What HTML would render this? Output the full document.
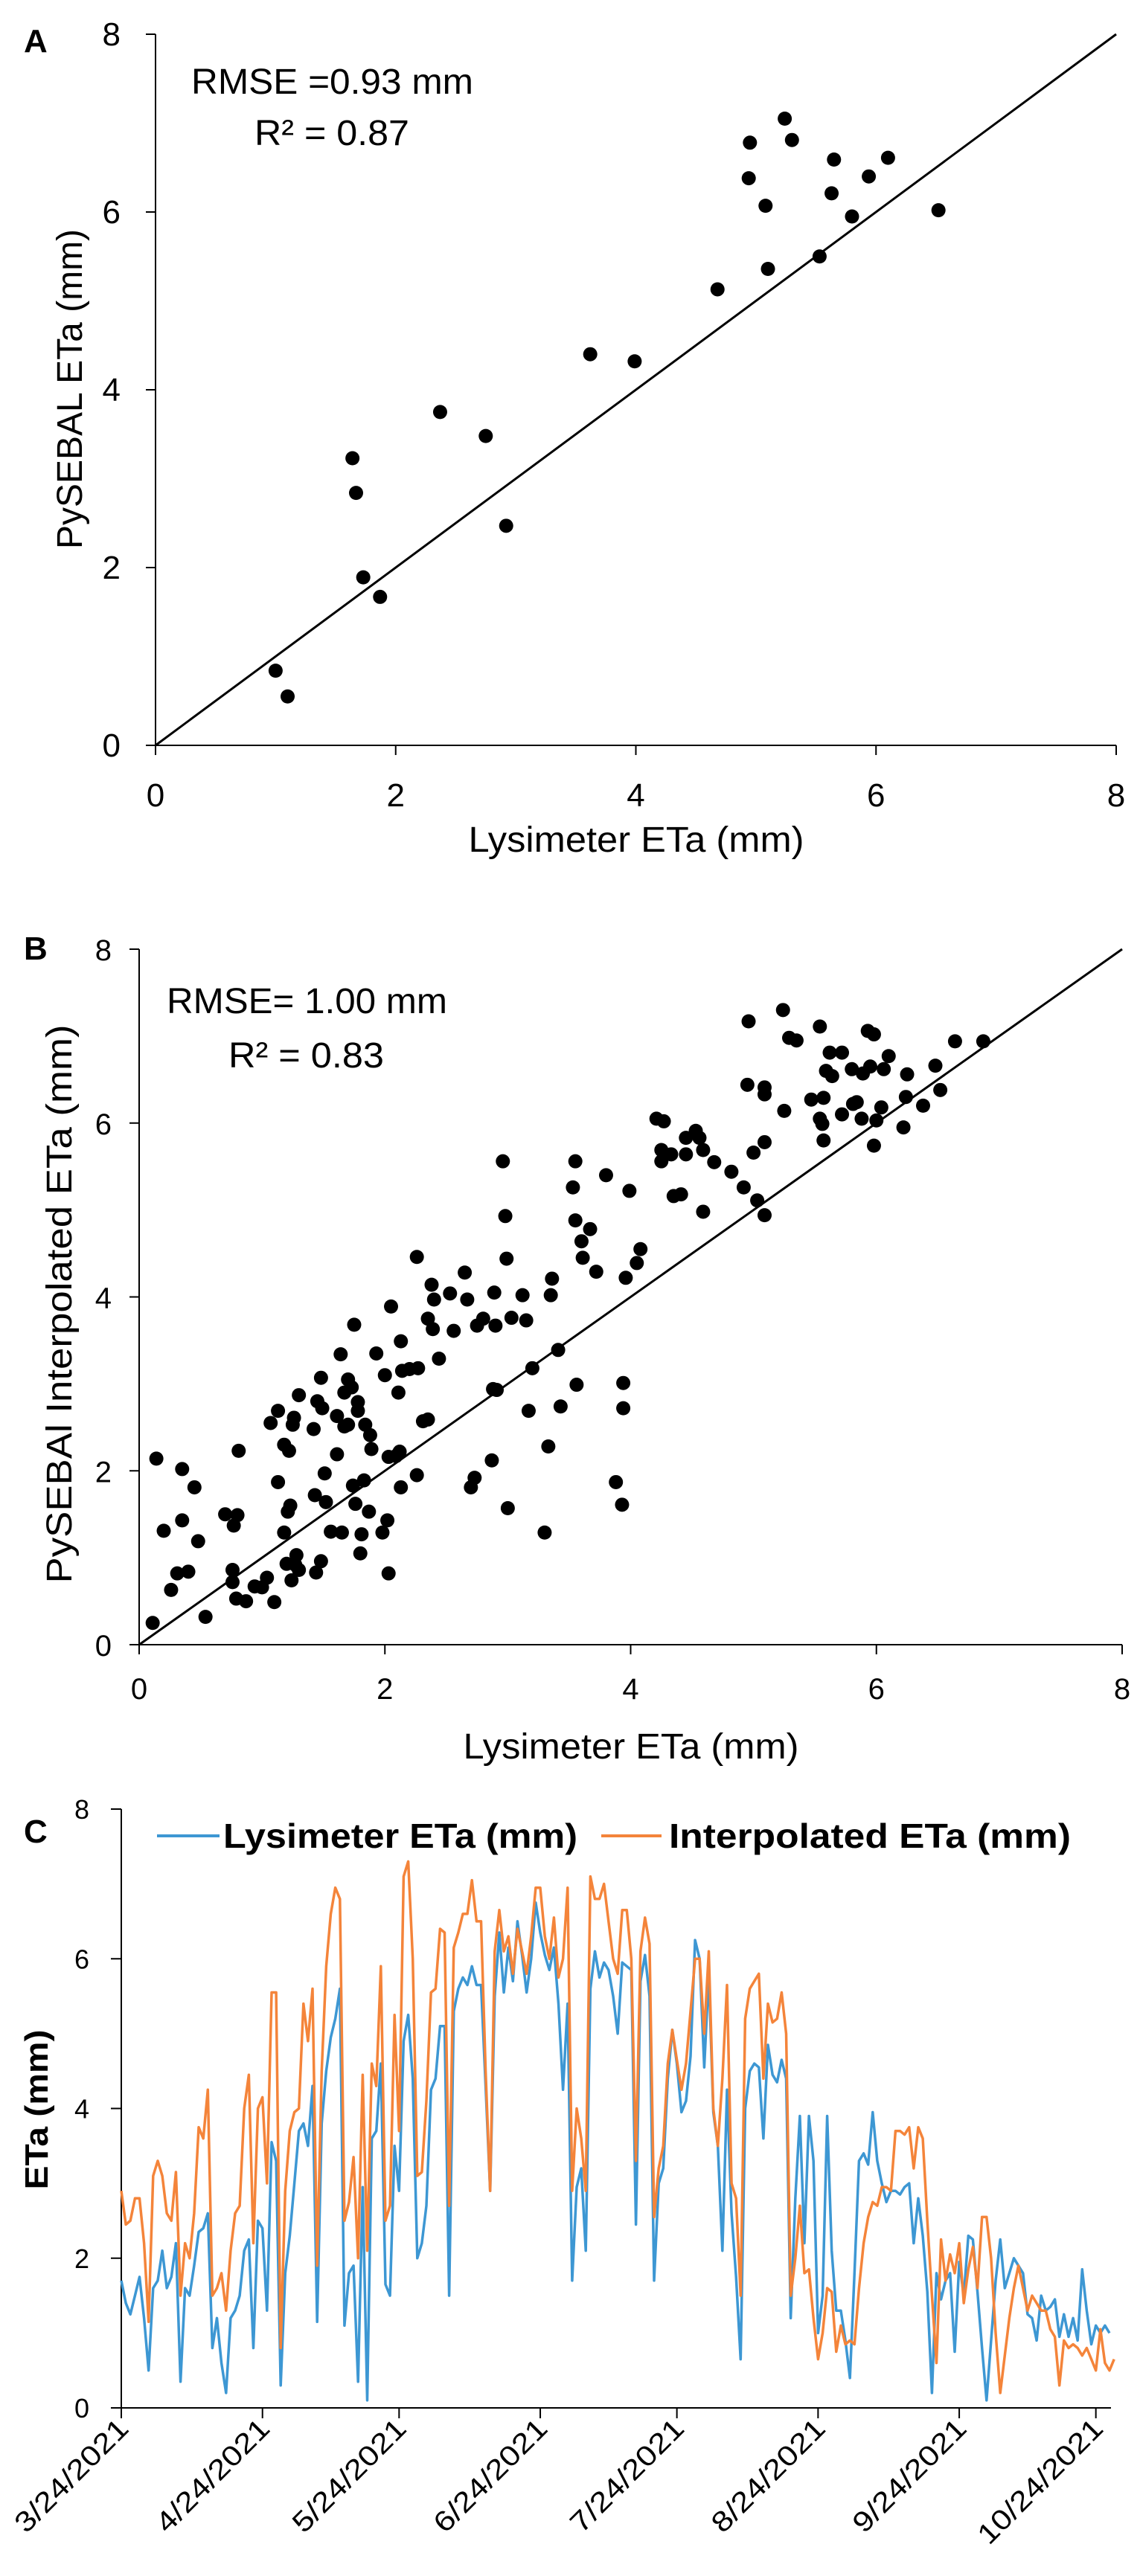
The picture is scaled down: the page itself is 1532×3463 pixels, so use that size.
<!DOCTYPE html>
<html><head><meta charset="utf-8">
<style>
html,body{margin:0;padding:0;background:#fff;}
svg{display:block;font-family:"Liberation Sans",Arial,sans-serif;}
</style></head>
<body>
<svg id="fig" width="1532" height="3463" viewBox="0 0 1532 3463" xmlns="http://www.w3.org/2000/svg">
<rect x="0" y="0" width="1532" height="3463" fill="#fff"/>
<g id="panelA"></g>
<g id="panelB"></g>
<g id="panelC"></g>
</svg>
<script>
// ---------- Panel A data ----------
const aLysimeter = [1.00,1.10,1.64,1.67,1.73,1.87,2.37,2.75,2.92,3.62,3.99,4.68,4.95,4.94,5.08,5.10,5.24,5.30,5.53,5.65,5.63,5.80,5.94,6.10,6.52];
const aPysebal   = [0.84,0.55,3.23,2.84,1.89,1.67,3.75,3.48,2.47,4.40,4.32,5.13,6.78,6.38,6.07,5.36,7.05,6.81,5.50,6.59,6.21,5.95,6.40,6.61,6.02];
const axisTicks = [0,2,4,6,8];

// ---------- Panel B data ----------
const bLysimeter = [0.11,0.14,0.20,0.26,0.31,0.35,0.35,0.40,0.45,0.48,0.54,0.70,0.76,0.76,0.77,0.80,0.81,0.79,0.87,0.94,1.00,1.04,1.10,1.07,1.13,1.13,1.18,1.18,1.20,1.22,1.21,1.23,1.24,1.25,1.27,1.26,1.28,1.30,1.30,1.42,1.43,1.44,1.45,1.48,1.48,1.49,1.51,1.52,1.56,1.61,1.61,1.64,1.65,1.67,1.67,1.70,1.70,1.73,1.74,1.75,1.76,1.78,1.78,1.80,1.81,1.83,1.84,1.88,1.87,1.89,1.93,1.98,2.00,2.02,2.03,2.03,2.05,2.09,2.11,2.12,2.13,2.13,2.14,2.20,2.27,2.26,2.26,2.31,2.35,2.35,2.38,2.40,2.39,2.44,2.53,2.56,2.65,2.67,2.70,2.73,2.75,2.80,2.87,2.88,2.89,2.90,2.91,2.96,2.98,2.99,3.00,3.03,3.12,3.15,3.17,3.20,3.30,3.33,3.35,3.36,3.41,3.43,3.53,3.55,3.55,3.56,3.60,3.61,3.67,3.72,3.80,3.88,3.93,3.94,3.94,3.96,3.99,4.05,4.08,4.21,4.27,4.25,4.25,4.33,4.35,4.41,4.45,4.45,4.53,4.56,4.59,4.59,4.68,4.82,4.92,4.95,4.96,5.00,5.03,5.09,5.09,5.09,5.09,5.25,5.24,5.29,5.35,5.47,5.54,5.54,5.56,5.57,5.57,5.59,5.62,5.64,5.72,5.72,5.80,5.81,5.84,5.89,5.88,5.93,5.98,5.95,6.00,5.98,6.04,6.06,6.10,6.22,6.24,6.25,6.38,6.48,6.52,6.64,6.87];
const bInterpolated = [0.25,2.14,1.31,0.63,0.82,2.02,1.43,0.84,1.81,1.19,0.32,1.50,0.86,0.72,1.37,1.49,2.23,0.53,0.50,0.67,0.66,0.77,0.49,2.55,2.69,1.87,2.30,1.29,0.93,2.23,1.53,1.60,0.74,2.53,0.92,2.61,1.03,0.86,2.87,2.48,1.72,0.83,2.80,0.96,3.07,2.72,1.97,1.64,1.30,2.19,2.63,3.34,1.29,2.51,2.90,3.05,2.53,2.96,1.83,3.68,1.62,2.79,2.69,1.05,1.27,1.89,2.53,2.41,1.53,2.25,3.35,1.29,3.10,1.43,2.16,0.82,3.89,2.17,2.90,2.22,1.81,3.49,3.15,3.17,3.18,4.46,1.95,2.57,2.59,3.75,4.14,3.97,3.63,3.29,4.04,3.61,4.28,3.97,1.81,1.92,3.67,3.75,2.12,2.94,4.05,3.67,2.93,5.56,4.93,4.44,1.57,3.76,4.02,3.73,2.69,3.18,1.29,2.28,4.02,4.21,3.39,2.74,5.26,5.56,4.88,2.99,4.64,4.45,4.78,4.29,5.40,1.87,1.61,2.72,3.01,4.22,5.22,4.39,4.55,6.05,6.02,5.69,5.56,5.64,5.16,5.18,5.64,5.83,5.91,5.83,5.69,4.98,5.55,5.44,5.26,6.44,7.17,5.66,5.11,5.78,4.94,6.41,6.33,6.14,7.30,6.98,6.95,6.27,7.11,6.05,5.99,5.80,6.29,6.60,6.81,6.54,6.81,6.10,6.62,6.22,6.24,6.57,6.05,7.06,7.02,6.65,6.03,5.74,6.18,6.62,6.77,5.95,6.30,6.56,6.20,6.66,6.38,6.94,6.94];

// ---------- Panel C data ----------
const cDateLabels = ["3/24/2021","4/24/2021","5/24/2021","6/24/2021","7/24/2021","8/24/2021","9/24/2021","10/24/2021"];
const cDateDays = [0,31,61,92,122,153,184,214];
const cLysimeter = [1.7,1.4,1.25,1.5,1.75,1.2,0.5,1.6,1.7,2.1,1.6,1.75,2.2,0.35,1.6,1.5,1.9,2.35,2.4,2.6,0.8,1.2,0.6,0.2,1.2,1.3,1.5,2.1,2.25,0.8,2.5,2.4,1.3,3.55,3.3,0.3,1.8,2.3,3.0,3.7,3.8,3.5,4.3,1.15,3.8,4.5,4.95,5.2,5.6,1.1,1.8,1.9,0.35,2.95,0.1,3.6,3.7,4.6,1.65,1.5,3.5,2.9,4.9,5.25,4.4,2.0,2.2,2.7,4.25,4.4,5.1,5.1,1.5,5.3,5.6,5.75,5.65,5.9,5.65,5.65,4.3,2.9,5.5,6.35,5.55,6.15,5.7,6.5,6.05,5.55,6.0,6.75,6.35,6.05,5.85,6.15,5.4,4.25,5.4,1.7,2.95,3.2,2.1,5.6,6.1,5.75,5.95,5.85,5.5,5.0,5.95,5.9,5.85,2.45,5.7,6.05,5.5,1.7,3.0,3.2,4.4,5.05,4.6,3.95,4.1,4.7,6.25,6.0,4.55,5.8,3.95,3.5,2.1,4.25,2.6,1.75,0.65,4.0,4.5,4.6,4.55,3.6,4.85,4.45,4.35,4.65,4.4,1.2,2.8,3.9,2.2,3.9,3.3,1.0,1.5,3.9,2.1,1.3,1.3,0.9,0.4,1.8,3.3,3.4,3.25,3.95,3.3,3.0,2.75,2.9,2.9,2.85,2.95,3.0,2.2,2.8,2.3,1.55,0.2,1.8,1.45,1.7,1.8,0.75,1.95,1.5,2.3,2.25,1.55,0.8,0.1,0.9,1.7,2.25,1.6,1.8,2.0,1.9,1.8,1.25,1.2,0.9,1.5,1.3,1.35,1.45,0.95,1.25,0.95,1.2,0.9,1.85,1.3,0.85,1.1,1.0,1.1,1.0];
const cInterpolated = [2.9,2.45,2.5,2.8,2.8,2.2,1.15,3.1,3.3,3.1,2.6,2.5,3.15,1.5,2.2,2.0,2.6,3.75,3.6,4.25,1.5,1.6,1.8,1.3,2.1,2.6,2.7,4.0,4.45,2.2,4.0,4.15,3.0,5.55,5.55,0.8,2.9,3.7,3.95,4.0,5.4,4.9,5.6,1.9,4.5,5.9,6.6,6.95,6.8,2.5,2.75,3.35,2.0,4.45,2.1,4.6,4.3,5.9,2.5,2.7,5.25,3.7,7.1,7.3,6.0,3.1,3.15,4.1,5.55,5.6,6.4,6.35,2.7,6.15,6.35,6.6,6.6,7.05,6.5,6.5,4.5,2.9,6.1,6.65,6.1,6.3,5.8,6.4,6.1,5.8,6.3,6.95,6.95,6.3,6.0,6.55,5.75,6.0,6.95,2.9,4.0,3.6,2.9,7.1,6.8,6.8,7.0,6.5,6.0,5.8,6.65,6.65,6.0,3.3,6.1,6.55,6.2,2.55,3.2,3.5,4.6,5.05,4.65,4.25,4.6,5.3,6.0,6.0,5.0,6.1,4.0,3.5,4.4,5.65,3.0,2.8,1.5,5.2,5.6,5.7,5.8,4.4,5.4,5.15,5.2,5.55,5.0,1.5,2.0,2.7,1.8,1.85,1.2,0.65,1.0,1.6,1.55,0.75,1.1,0.85,0.9,0.85,1.6,2.2,2.55,2.75,2.7,2.95,2.95,2.9,3.7,3.7,3.65,3.75,3.2,3.75,3.6,2.5,1.5,0.6,2.25,1.7,2.05,1.8,2.2,1.4,1.85,2.15,1.6,2.55,2.55,2.0,1.0,0.2,0.7,1.2,1.6,1.9,1.6,1.3,1.5,1.4,1.3,1.3,1.05,0.95,0.3,0.9,0.8,0.85,0.8,0.7,0.8,0.65,0.5,1.05,0.6,0.5,0.65];

const NS = "http://www.w3.org/2000/svg";
function mk(tag, attrs, parent) {
  const e = document.createElementNS(NS, tag);
  for (const k in attrs) e.setAttribute(k, attrs[k]);
  parent.appendChild(e);
  return e;
}

function scatterPanel(g, cfg, xs, ys) {
  const sx = v => cfg.x0 + (cfg.x1 - cfg.x0) * v / 8;
  const sy = v => cfg.y0 - (cfg.y0 - cfg.y1) * v / 8;
  const yAxis = mk("line", {x1: cfg.x0, y1: cfg.y0, x2: cfg.x0, y2: cfg.y1, stroke: "#000", "stroke-width": 2}, g);
  
  
  const xAxis = mk("line", {x1: cfg.x0, y1: cfg.y0, x2: cfg.x1, y2: cfg.y0, stroke: "#000", "stroke-width": 2}, g);
  
  
  axisTicks.forEach(t => {
    const ty = sy(t);
    const tk = mk("line", {x1: cfg.x0 - 13, y1: ty, x2: cfg.x0, y2: ty, stroke: "#000", "stroke-width": 2}, g);
    
    
    const tl = mk("text", {x: cfg.ylabX, y: ty + 15, "text-anchor": "end", "font-size": cfg.tickFont, fill: "#000"}, g);
    tl.textContent = String(t);
    
    
    const tx = sx(t);
    const tk2 = mk("line", {x1: tx, y1: cfg.y0, x2: tx, y2: cfg.y0 + 13, stroke: "#000", "stroke-width": 2}, g);
    
    
    const tl2 = mk("text", {x: tx, y: cfg.xlabY + 15, "text-anchor": "middle", "font-size": cfg.tickFont, fill: "#000"}, g);
    tl2.textContent = String(t);
    
    
  });
  const ref = mk("line", {x1: sx(0), y1: sy(0), x2: sx(8), y2: sy(8), stroke: "#000", "stroke-width": 3}, g);
  
  
  xs.forEach((v, i) => {
    const c = mk("ellipse", {cx: sx(v), cy: sy(ys[i]), rx: 9.5, ry: 9.5, fill: "#000"}, g);
    
    
  });
}

const gA = document.getElementById("panelA");
scatterPanel(gA, {x0: 209, x1: 1500, y0: 1002, y1: 46, ylabX: 162, xlabY: 1069, tickFont: 44}, aLysimeter, aPysebal);
const gB = document.getElementById("panelB");
scatterPanel(gB, {x0: 187, x1: 1508, y0: 2211, y1: 1276, ylabX: 150, xlabY: 2269, tickFont: 40}, bLysimeter, bInterpolated);

const gC = document.getElementById("panelC");
const cx0 = 163, cx1 = 1493, cy0 = 3237, cy1 = 2432, pxPerDay = 6.12;
const scx = d => cx0 + d * pxPerDay;
const scy = v => cy0 - (cy0 - cy1) * v / 8;
const cyAxis = mk("line", {x1: cx0, y1: cy0, x2: cx0, y2: cy1, stroke: "#000", "stroke-width": 2}, gC);


const cxAxis = mk("line", {x1: cx0, y1: cy0, x2: cx1, y2: cy0, stroke: "#000", "stroke-width": 2}, gC);


axisTicks.forEach(t => {
  const ty = scy(t);
  const tk = mk("line", {x1: cx0 - 14, y1: ty, x2: cx0, y2: ty, stroke: "#000", "stroke-width": 2}, gC);
  
  
  const tl = mk("text", {x: 120, y: ty + 13, "text-anchor": "end", "font-size": 36, fill: "#000"}, gC);
  tl.textContent = String(t);
  
  
});
cDateDays.forEach((d, i) => {
  const tx = scx(d);
  const tk = mk("line", {x1: tx, y1: cy0, x2: tx, y2: cy0 + 14, stroke: "#000", "stroke-width": 2}, gC);
  
  
  const ax = tx + 12, ay = cy0 + 30;
  const tl = mk("text", {x: ax, y: ay, "text-anchor": "end", "font-size": 38, fill: "#000",
    transform: "rotate(-45 " + ax + " " + ay + ")", textLength: cDateLabels[i].length > 9 ? 220 : 198, lengthAdjust: "spacingAndGlyphs"}, gC);
  tl.textContent = cDateLabels[i];
  
  
});
function seriesPath(vals) {
  return vals.map((v, i) => (i ? "L" : "M") + scx(i).toFixed(1) + " " + scy(v).toFixed(1)).join(" ");
}
const lineB = mk("path", {d: seriesPath(cLysimeter), fill: "none", stroke: "#3d97d3", "stroke-width": 3.5, "stroke-linejoin": "round"}, gC);


const lineO = mk("path", {d: seriesPath(cInterpolated), fill: "none", stroke: "#f4843a", "stroke-width": 3.5, "stroke-linejoin": "round"}, gC);


</script>
<script>
(function(){
  const svg = document.getElementById("fig");
  const NS = "http://www.w3.org/2000/svg";
  function t(txt, attrs, name) {
    const e = document.createElementNS(NS, "text");
    for (const k in attrs) e.setAttribute(k, attrs[k]);
    e.textContent = txt;
    
    
    svg.appendChild(e);
    return e;
  }
  t("A", {x: 32, y: 70, "font-size": 44, "font-weight": "bold"}, 'panel-a-label');
  t("RMSE =0.93 mm", {x: 257, y: 126, "font-size": 48, textLength: 379, lengthAdjust: "spacingAndGlyphs"}, 'rmse-annotation');
  t("R² = 0.87", {x: 342, y: 195, "font-size": 48, textLength: 208, lengthAdjust: "spacingAndGlyphs"}, 'r2-annotation');
  t("PySEBAL ETa (mm)", {x: 0, y: 0, "font-size": 48, "text-anchor": "middle", textLength: 430, lengthAdjust: "spacingAndGlyphs", transform: "translate(110 523) rotate(-90)"}, 'y-axis-title');
  t("Lysimeter ETa (mm)", {x: 855, y: 1145, "font-size": 48, "text-anchor": "middle", textLength: 451, lengthAdjust: "spacingAndGlyphs"}, 'x-axis-title');
  t("B", {x: 32, y: 1290, "font-size": 44, "font-weight": "bold"}, 'panel-b-label');
  t("RMSE= 1.00 mm", {x: 224, y: 1362, "font-size": 48, textLength: 377, lengthAdjust: "spacingAndGlyphs"}, 'rmse-annotation');
  t("R² = 0.83", {x: 307, y: 1435, "font-size": 48, textLength: 209, lengthAdjust: "spacingAndGlyphs"}, 'r2-annotation');
  t("PySEBAl  Interpolated ETa (mm)", {x: 0, y: 0, "font-size": 48, "text-anchor": "middle", textLength: 751, lengthAdjust: "spacingAndGlyphs", transform: "translate(96 1753) rotate(-90)"}, 'y-axis-title');
  t("Lysimeter ETa (mm)", {x: 848, y: 2364, "font-size": 48, "text-anchor": "middle", textLength: 451, lengthAdjust: "spacingAndGlyphs"}, 'x-axis-title');
  t("C", {x: 32, y: 2477, "font-size": 44, "font-weight": "bold"}, 'panel-c-label');
  t("ETa (mm)", {x: 0, y: 0, "font-size": 44, "font-weight": "bold", "text-anchor": "middle", textLength: 215, lengthAdjust: "spacingAndGlyphs", transform: "translate(64 2836) rotate(-90)"}, 'y-axis-title');
  const l1 = document.createElementNS(NS, "line");
  l1.setAttribute("x1", 211); l1.setAttribute("y1", 2468); l1.setAttribute("x2", 295); l1.setAttribute("y2", 2468);
  l1.setAttribute("stroke", "#3d97d3"); l1.setAttribute("stroke-width", 4);
  
  
  svg.appendChild(l1);
  t("Lysimeter ETa (mm)", {x: 300, y: 2484, "font-size": 46, "font-weight": "bold", textLength: 476, lengthAdjust: "spacingAndGlyphs"}, 'legend-lysimeter-label');
  const l2 = document.createElementNS(NS, "line");
  l2.setAttribute("x1", 808); l2.setAttribute("y1", 2468); l2.setAttribute("x2", 889); l2.setAttribute("y2", 2468);
  l2.setAttribute("stroke", "#f4843a"); l2.setAttribute("stroke-width", 4);
  
  
  svg.appendChild(l2);
  t("Interpolated ETa (mm)", {x: 899, y: 2484, "font-size": 46, "font-weight": "bold", textLength: 540, lengthAdjust: "spacingAndGlyphs"}, 'legend-interpolated-label');
})();
</script>
</body></html>
